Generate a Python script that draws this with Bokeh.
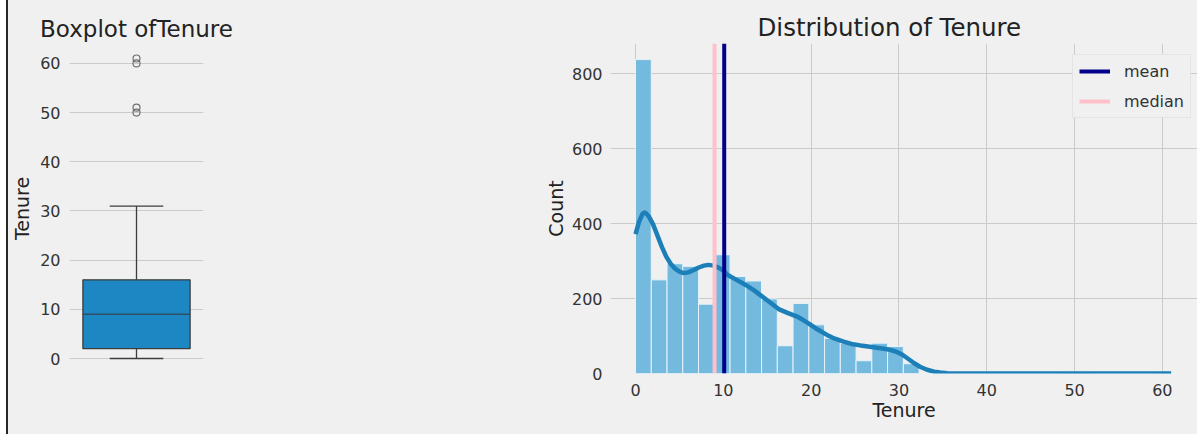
import numpy as np
from bokeh.plotting import figure
from bokeh.layouts import row, Spacer
from bokeh.models import Legend, LegendItem, FixedTicker, Range1d
from bokeh.embed import file_html
from bokeh.resources import INLINE

# ---------------- data ----------------
box_q1 = 2
box_median = 9
box_q3 = 16
whisker_low = 0
whisker_high = 31
outliers = [50, 51, 60, 61]

hist_min = 0
hist_max = 61
hist_counts = [838, 250, 293, 286, 185, 317, 259, 247, 199, 74, 187, 130,
               94, 81, 34, 81, 72, 26, 0, 0, 0, 0, 0, 0, 0, 0, 0, 2, 2,
               0, 0, 0, 0, 4]

kde_x = [0, 0.4, 0.8, 1.1, 1.5, 2.0, 2.5, 3.0, 3.5, 4.0, 4.5, 5.0, 5.5, 6.0,
         6.6, 7.2, 7.8, 8.3, 8.9, 9.5, 10.0, 10.5, 11.5, 12.5, 13.5, 14.4,
         15.4, 16.3, 17.3, 18.4, 19.0, 19.7, 20.7, 21.8, 22.7, 23.7, 24.6,
         25.6, 26.5, 27.5, 28.3, 29.0, 29.7, 30.4, 31.0, 31.7, 32.4, 33.2,
         34.0, 34.7, 35.5, 37, 45, 50, 55, 61]
kde_y = [372, 405, 427, 430, 420, 398, 368, 338, 312, 293, 280, 272, 268, 270,
         276, 283, 288, 290, 288, 282, 275, 263, 250, 237, 222, 206,
         188, 172, 162, 152, 144, 134, 118, 103, 93, 85, 79,
         75, 72, 69, 66, 63, 58, 50, 40, 28, 18, 10,
         5, 3, 1, 0, 0, 0, 0, 0]

tenure_mean = 10.1
tenure_median = 9

y_ticks_box = [0, 10, 20, 30, 40, 50, 60]
x_ticks_hist = [0, 10, 20, 30, 40, 50, 60]
y_ticks_hist = [0, 200, 400, 600, 800]

# ---------------- styling ----------------
FONT = "DejaVu Sans"
BG = "#f0f0f0"
GRID = "#cbcbcb"
TXT = "#333333"
H = 434


def style(p):
    p.background_fill_color = BG
    p.border_fill_color = BG
    p.outline_line_color = None
    p.title.text_font = FONT
    p.title.text_font_size = "23px"
    p.title.text_font_style = "normal"
    p.title.text_color = "#222222"
    p.title.align = "center"
    p.title.standoff = 4
    for ax in (p.xaxis, p.yaxis):
        ax.axis_line_color = None
        ax.major_tick_line_color = None
        ax.minor_tick_line_color = None
        ax.major_label_text_font = FONT
        ax.major_label_text_font_size = "16px"
        ax.major_label_text_color = TXT
        ax.axis_label_text_font = FONT
        ax.axis_label_text_font_size = "19px"
        ax.axis_label_text_font_style = "normal"
        ax.axis_label_text_color = "#222222"
    p.xgrid.grid_line_color = GRID
    p.ygrid.grid_line_color = GRID
    p.xgrid.grid_line_width = 1
    p.ygrid.grid_line_width = 1


# ---------------- boxplot ----------------
pb = figure(width=250, height=H, output_backend="svg", toolbar_location=None,
            title="Boxplot ofTenure",
            x_range=Range1d(-0.5, 0.5), y_range=Range1d(-3.05, 64.05),
            min_border_left=58, min_border_right=55,
            min_border_top=43, min_border_bottom=61)
style(pb)
pb.xaxis.visible = False
pb.xgrid.grid_line_color = None
pb.yaxis.ticker = FixedTicker(ticks=y_ticks_box)
pb.yaxis.axis_label = "Tenure"
pb.yaxis.major_label_standoff = 3
pb.yaxis.axis_label_standoff = 4

EDGE = "#3d3d3d"
pb.segment(x0=[0, 0], y0=[box_q3, box_q1], x1=[0, 0], y1=[whisker_high, whisker_low],
           line_color=EDGE, line_width=1.3)
pb.segment(x0=[-0.2, -0.2], y0=[whisker_high, whisker_low], x1=[0.2, 0.2],
           y1=[whisker_high, whisker_low], line_color=EDGE, line_width=1.3)
pb.vbar(x=[0], width=0.8, bottom=[box_q1], top=[box_q3],
        fill_color="#1c87c2", line_color=EDGE, line_width=1.3)
pb.segment(x0=[-0.4], y0=[box_median], x1=[0.4], y1=[box_median],
           line_color="#2f4f66", line_width=1.3)
pb.scatter(x=[0] * len(outliers), y=outliers, marker="circle", size=7,
           fill_color=None, line_color="#707070", line_width=1.2)

# ---------------- histogram ----------------
edges = np.linspace(hist_min, hist_max, len(hist_counts) + 1)
Y_TOP = 881
ph = figure(width=939, height=H, output_backend="svg", toolbar_location=None,
            title="Distribution of Tenure",
            x_range=Range1d(-2.85, 64.0), y_range=Range1d(0, Y_TOP),
            min_border_left=352, min_border_right=0,
            min_border_top=43, min_border_bottom=61)
style(ph)
ph.title.text_font_size = "24.5px"
ph.title.align = "left"
ph.title.offset = 147
ph.xaxis.ticker = FixedTicker(ticks=x_ticks_hist)
ph.yaxis.ticker = FixedTicker(ticks=y_ticks_hist)
ph.yaxis.major_label_text_align = "right"
ph.yaxis.major_label_text_baseline = "middle"
ph.xaxis.axis_label = "Tenure"
ph.yaxis.axis_label = "Count"
ph.yaxis.major_label_standoff = 2
ph.yaxis.axis_label_standoff = 2
ph.xaxis.major_label_standoff = 4
ph.xaxis.axis_label_standoff = 0

ph.quad(left=edges[:-1], right=edges[1:], bottom=0, top=hist_counts,
        fill_color="#74b9de", line_color="#e6f3fa", line_width=1)
ph.line(kde_x, kde_y, line_color="#1c7fb8", line_width=4.5)

r_median = ph.line(x=[tenure_median, tenure_median], y=[0, Y_TOP],
                   line_color="pink", line_width=4)
r_mean = ph.line(x=[tenure_mean, tenure_mean], y=[0, Y_TOP],
                 line_color="darkblue", line_width=4)

legend = Legend(items=[LegendItem(label="mean", renderers=[r_mean]),
                       LegendItem(label="median", renderers=[r_median])],
                location=(462, 255))
legend.background_fill_color = BG
legend.background_fill_alpha = 1
legend.border_line_color = "#d8d8d8"
legend.label_text_font = FONT
legend.label_text_font_size = "16px"
legend.label_text_color = TXT
legend.padding = 6
legend.spacing = 10
legend.label_height = 20
legend.glyph_height = 20
legend.glyph_width = 31
legend.label_standoff = 14
legend.margin = 0
ph.add_layout(legend)

gap = Spacer(width=6, height=H, styles={"background-color": "#ffffff"})
edge_line = Spacer(width=2, height=H, styles={"background-color": "#262626"})
layout = row(gap, edge_line, pb, ph, styles={"background-color": BG})
open("out.html", "w").write(file_html(layout, INLINE))
